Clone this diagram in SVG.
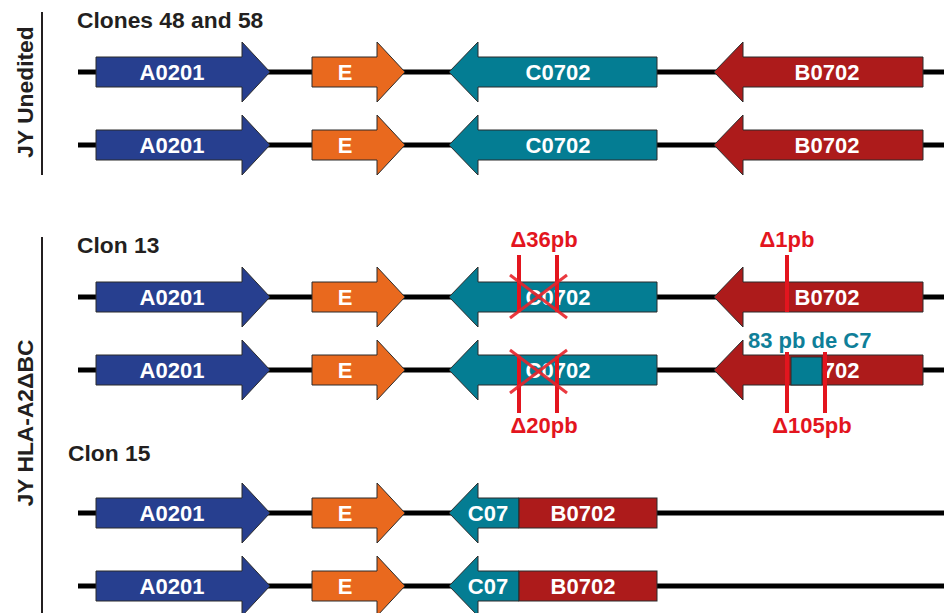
<svg xmlns="http://www.w3.org/2000/svg" width="944" height="613" viewBox="0 0 944 613">
<style>
text{font-family:"Liberation Sans",Arial,sans-serif;font-weight:bold;font-size:22px}
.lbl{fill:#ffffff;text-anchor:middle}
.ttl{fill:#231f20;font-size:22.8px}
.dl{fill:#e3151e;text-anchor:middle}
.blue{fill:#273f8f;stroke:#2b2b2b;stroke-width:1}
.orange{fill:#e9691e;stroke:#2b2b2b;stroke-width:1}
.teal{fill:#047d93;stroke:#2b2b2b;stroke-width:1}
.red{fill:#ad1b1b;stroke:#2b2b2b;stroke-width:1}
.dna{stroke:#000;stroke-width:5}
.sep{stroke:#231f20;stroke-width:2}
.cut{stroke:#e3151e;stroke-width:4}
.x{stroke:#e8242b;stroke-width:3;opacity:0.9}
</style>
<rect width="944" height="613" fill="#ffffff"/>
<g id="labels">
<text class="ttl" transform="translate(33,92) rotate(-90)" text-anchor="middle">JY Unedited</text>
<text class="ttl" transform="translate(33,423) rotate(-90)" text-anchor="middle">JY HLA-A2ΔBC</text>
<line class="sep" x1="42" y1="12" x2="42" y2="175"/>
<line class="sep" x1="42" y1="237" x2="42" y2="613"/>
<text class="ttl" x="77" y="28">Clones 48 and 58</text>
<text class="ttl" x="77" y="253">Clon 13</text>
<text class="ttl" x="68" y="461">Clon 15</text>
</g>
<g id="connectors">
<line class="dna" x1="78" y1="72" x2="944" y2="72"/>
<line class="dna" x1="78" y1="145" x2="944" y2="145"/>
<line class="dna" x1="78" y1="297" x2="944" y2="297"/>
<line class="dna" x1="78" y1="370" x2="944" y2="370"/>
<line class="dna" x1="78" y1="513" x2="944" y2="513"/>
<line class="dna" x1="78" y1="586" x2="944" y2="586"/>
</g>
<!-- Row 1 -->
<g id="r1-A" transform="translate(0,72)"><path class="blue" d="M96,-15H242V-30L270,0L242,30V15H96Z"/><text class="lbl" x="172" y="8">A0201</text></g>
<g id="r1-E" transform="translate(0,72)"><path class="orange" d="M312,-15H377V-30L405,0L377,30V15H312Z"/><text class="lbl" x="345" y="8">E</text></g>
<g id="r1-C" transform="translate(0,72)"><path class="teal" d="M657,-15H478V-30L449,0L478,30V15H657Z"/><text class="lbl" x="558" y="8">C0702</text></g>
<g id="r1-B" transform="translate(0,72)"><path class="red" d="M923,-15H743V-30L714,0L743,30V15H923Z"/><text class="lbl" x="827" y="8">B0702</text></g>
<!-- Row 2 -->
<g id="r2-A" transform="translate(0,145)"><path class="blue" d="M96,-15H242V-30L270,0L242,30V15H96Z"/><text class="lbl" x="172" y="8">A0201</text></g>
<g id="r2-E" transform="translate(0,145)"><path class="orange" d="M312,-15H377V-30L405,0L377,30V15H312Z"/><text class="lbl" x="345" y="8">E</text></g>
<g id="r2-C" transform="translate(0,145)"><path class="teal" d="M657,-15H478V-30L449,0L478,30V15H657Z"/><text class="lbl" x="558" y="8">C0702</text></g>
<g id="r2-B" transform="translate(0,145)"><path class="red" d="M923,-15H743V-30L714,0L743,30V15H923Z"/><text class="lbl" x="827" y="8">B0702</text></g>
<!-- Row 3 -->
<g id="r3-A" transform="translate(0,297)"><path class="blue" d="M96,-15H242V-30L270,0L242,30V15H96Z"/><text class="lbl" x="172" y="8">A0201</text></g>
<g id="r3-E" transform="translate(0,297)"><path class="orange" d="M312,-15H377V-30L405,0L377,30V15H312Z"/><text class="lbl" x="345" y="8">E</text></g>
<g id="r3-C" transform="translate(0,297)"><path class="teal" d="M657,-15H478V-30L449,0L478,30V15H657Z"/><text class="lbl" x="558" y="8">C0702</text></g>
<g id="r3-B" transform="translate(0,297)"><path class="red" d="M923,-15H743V-30L714,0L743,30V15H923Z"/><text class="lbl" x="827" y="8">B0702</text></g>
<!-- Row 4 -->
<g id="r4-A" transform="translate(0,370)"><path class="blue" d="M96,-15H242V-30L270,0L242,30V15H96Z"/><text class="lbl" x="172" y="8">A0201</text></g>
<g id="r4-E" transform="translate(0,370)"><path class="orange" d="M312,-15H377V-30L405,0L377,30V15H312Z"/><text class="lbl" x="345" y="8">E</text></g>
<g id="r4-C" transform="translate(0,370)"><path class="teal" d="M657,-15H478V-30L449,0L478,30V15H657Z"/><text class="lbl" x="558" y="8">C0702</text></g>
<g id="r4-B" transform="translate(0,370)"><path class="red" d="M923,-15H743V-30L714,0L743,30V15H923Z"/><text class="lbl" x="827" y="8">B0702</text><rect class="teal" x="791" y="-13" width="31" height="28"/></g>
<!-- Row 5 -->
<g id="r5-A" transform="translate(0,513)"><path class="blue" d="M96,-15H242V-30L270,0L242,30V15H96Z"/><text class="lbl" x="172" y="8">A0201</text></g>
<g id="r5-E" transform="translate(0,513)"><path class="orange" d="M312,-15H377V-30L405,0L377,30V15H312Z"/><text class="lbl" x="345" y="8">E</text></g>
<g id="r5-CB" transform="translate(0,513)"><path class="teal" d="M519,-15H478V-30L449,0L478,30V15H519Z"/><rect class="red" x="519" y="-15" width="138" height="30"/><text class="lbl" x="488" y="8">C07</text><text class="lbl" x="583" y="8">B0702</text></g>
<!-- Row 6 -->
<g id="r6-A" transform="translate(0,586)"><path class="blue" d="M96,-15H242V-30L270,0L242,30V15H96Z"/><text class="lbl" x="172" y="8">A0201</text></g>
<g id="r6-E" transform="translate(0,586)"><path class="orange" d="M312,-15H377V-30L405,0L377,30V15H312Z"/><text class="lbl" x="345" y="8">E</text></g>
<g id="r6-CB" transform="translate(0,586)"><path class="teal" d="M519,-15H478V-30L449,0L478,30V15H519Z"/><rect class="red" x="519" y="-15" width="138" height="30"/><text class="lbl" x="488" y="8">C07</text><text class="lbl" x="583" y="8">B0702</text></g>
<!-- Edits -->
<g id="edit-36">
<line class="cut" x1="519" y1="255" x2="519" y2="312"/>
<line class="cut" x1="557" y1="255" x2="557" y2="312"/>
<line class="x" x1="510" y1="275" x2="567" y2="318"/>
<line class="x" x1="567" y1="275" x2="510" y2="318"/>
<text class="dl" x="544" y="247">Δ36pb</text>
</g>
<g id="edit-20">
<line class="cut" x1="519" y1="356" x2="519" y2="413"/>
<line class="cut" x1="557" y1="356" x2="557" y2="413"/>
<line class="x" x1="510" y1="350" x2="567" y2="393"/>
<line class="x" x1="567" y1="350" x2="510" y2="393"/>
<text class="dl" x="544" y="433">Δ20pb</text>
</g>
<g id="edit-1">
<line class="cut" x1="787" y1="255" x2="787" y2="312"/>
<text class="dl" x="787" y="247">Δ1pb</text>
</g>
<g id="edit-105">
<line class="cut" x1="787" y1="352" x2="787" y2="413"/>
<line class="cut" x1="825" y1="352" x2="825" y2="413"/>
<text class="dl" x="812" y="433">Δ105pb</text>
<text x="748" y="348" fill="#0f7f99">83 pb de C7</text>
</g>
</svg>
